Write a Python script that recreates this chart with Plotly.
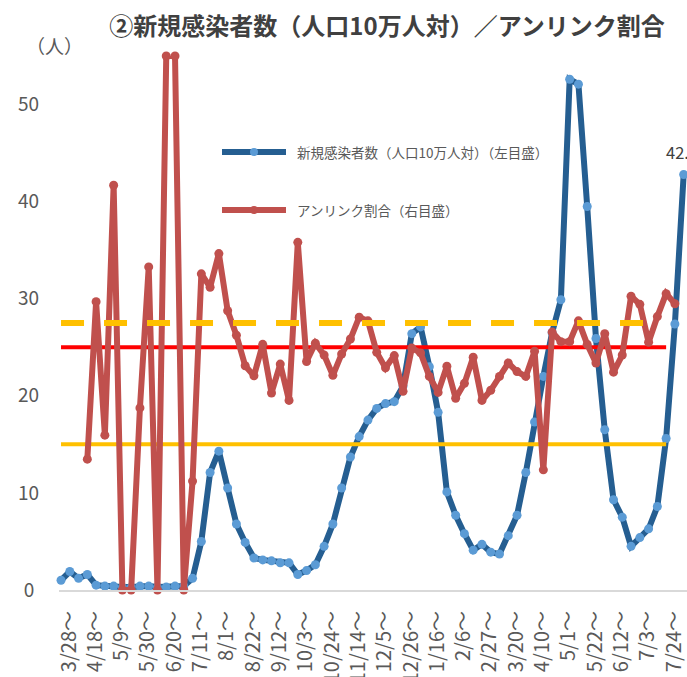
import plotly.graph_objects as go

# Weekly periods (week starting date)
weeks = [
    "3/28～", "4/4～", "4/11～", "4/18～", "4/25～", "5/2～", "5/9～", "5/16～",
    "5/23～", "5/30～", "6/6～", "6/13～", "6/20～", "6/27～", "7/4～", "7/11～",
    "7/18～", "7/25～", "8/1～", "8/8～", "8/15～", "8/22～", "8/29～", "9/5～",
    "9/12～", "9/19～", "9/26～", "10/3～", "10/10～", "10/17～", "10/24～", "10/31～",
    "11/7～", "11/14～", "11/21～", "11/28～", "12/5～", "12/12～", "12/19～", "12/26～",
    "1/2～", "1/9～", "1/16～", "1/23～", "1/30～", "2/6～", "2/13～", "2/20～",
    "2/27～", "3/6～", "3/13～", "3/20～", "3/27～", "4/3～", "4/10～", "4/17～",
    "4/24～", "5/1～", "5/8～", "5/15～", "5/22～", "5/29～", "6/5～", "6/12～",
    "6/19～", "6/26～", "7/3～", "7/10～", "7/17～", "7/24～", "7/31～", "8/7～",
]

# New cases per 100k population (left axis)
new_cases = [
    1.0, 1.9, 1.2, 1.6, 0.5, 0.4, 0.4, 0.3, 0.3, 0.4, 0.4, 0.3,
    0.3, 0.4, 0.4, 1.2, 5.0, 12.1, 14.3, 10.5, 6.8, 4.9, 3.3, 3.1,
    3.0, 2.8, 2.8, 1.6, 2.0, 2.6, 4.5, 6.8, 10.5, 13.7, 15.8, 17.5,
    18.7, 19.2, 19.4, 21.0, 26.4, 27.1, 23.0, 18.3, 10.1, 7.7, 5.8, 4.1,
    4.7, 3.9, 3.7, 5.6, 7.7, 12.1, 17.3, 22.0, 26.5, 29.9, 52.6, 52.1,
    39.5, 25.9, 16.5, 9.3, 7.5, 4.5, 5.4, 6.3, 8.6, 15.6, 27.4, 42.8,
]

# Share of cases with unknown infection route, % (right axis)
unlinked_pct = [
    None, None, None, 24.5, 54.0, 29.0, 75.8, 0, 0, 34.1, 60.5, 0,
    100, 100, 0, 20.4, 59.2, 56.7, 63.0, 52.3, 47.7, 42.0, 40.1, 46.0,
    36.9, 42.3, 35.5, 65.1, 42.8, 46.2, 44.0, 40.2, 44.2, 47.0, 51.1, 50.4,
    44.5, 41.6, 43.9, 37.2, 45.3, 44.4, 40.0, 37.0, 41.9, 35.9, 38.7, 43.6,
    35.5, 37.4, 40.0, 42.5, 40.9, 40.0, 44.7, 22.5, 48.3, 46.5, 46.5, 50.4,
    46.0, 42.5, 48.0, 40.8, 44.0, 55.0, 53.5, 46.4, 51.2, 55.5, 53.6, None,
]

# Left axis ticks
case_ticks = [0, 10, 20, 30, 40, 50]
case_tick_text = ["0\u2005", "10", "20", "30", "40", "50"]

# Reference levels
cases_stage3 = 15      # per 100k, solid yellow
cases_stage4 = 25      # per 100k, solid red
unlinked_limit = 50    # %, dashed yellow
level_weeks = weeks[:70]
limit_weeks = weeks[:69]

TITLE = "②新規感染者数（人口10万人対）／アンリンク割合"
CASES_NAME = "新規感染者数（人口10万人対）（左目盛）"
UNLINKED_NAME = "アンリンク割合（右目盛）"

W, H = 687, 677
ML, MR, MT, MB = 59, 0, 56, 87
FONT = "Noto Sans CJK JP"
GREY = "#595959"
BLUE_LINE, BLUE_DOT = "#255E91", "#5B9BD5"
RED = "#C0504D"


def px_x(p):
    return (p - ML) / (W - ML - MR)


def px_y(p):
    return (H - MB - p) / (H - MT - MB)


fig = go.Figure()

fig.add_trace(go.Scatter(
    x=weeks, y=new_cases, mode="lines+markers", name=CASES_NAME,
    line=dict(color=BLUE_LINE, width=6),
    marker=dict(color=BLUE_DOT, size=9),
    yaxis="y", cliponaxis=False,
))
fig.add_trace(go.Scatter(
    x=level_weeks, y=[cases_stage3] * len(level_weeks), mode="lines",
    line=dict(color="#FFC000", width=4), yaxis="y", hoverinfo="skip",
))
fig.add_trace(go.Scatter(
    x=level_weeks, y=[cases_stage4] * len(level_weeks), mode="lines",
    line=dict(color="#FF0000", width=4), yaxis="y", hoverinfo="skip",
))
fig.add_trace(go.Scatter(
    x=weeks, y=unlinked_pct, mode="lines+markers", name=UNLINKED_NAME,
    line=dict(color=RED, width=6),
    marker=dict(color=RED, size=9),
    yaxis="y2", connectgaps=False, cliponaxis=False,
))
fig.add_trace(go.Scatter(
    x=limit_weeks, y=[unlinked_limit] * len(limit_weeks), mode="lines",
    line=dict(color="#FFC000", width=6, dash="23px,20px"),
    yaxis="y2", hoverinfo="skip",
))

# value label on the latest week (runs off the right edge of the chart)
fig.add_annotation(
    x=weeks[-1], y=new_cases[-1], yref="y", text=f"{new_cases[-1]:.1f}",
    showarrow=False, yshift=22, xshift=-20, xanchor="left",
    font=dict(family=FONT, size=16.5, color="#404040"),
)

# legend drawn inside the plot
legend_rows = [
    (CASES_NAME, BLUE_LINE, BLUE_DOT, 152),
    (UNLINKED_NAME, RED, RED, 210),
]
for label, line_col, dot_col, ypx in legend_rows:
    fig.add_shape(type="line", xref="paper", yref="paper",
                  x0=px_x(222), x1=px_x(286), y0=px_y(ypx), y1=px_y(ypx),
                  line=dict(color=line_col, width=6), layer="above")
    fig.add_shape(type="circle", xref="paper", yref="paper",
                  x0=px_x(250), x1=px_x(258), y0=px_y(ypx + 4), y1=px_y(ypx - 4),
                  fillcolor=dot_col, line=dict(width=0), layer="above")
    fig.add_annotation(xref="paper", yref="paper", x=px_x(295), y=px_y(ypx),
                       text=label, showarrow=False, xanchor="left", yanchor="middle",
                       font=dict(family=FONT, size=13.5, color=GREY))

# unit label
fig.add_annotation(xref="paper", yref="paper", x=px_x(54), y=px_y(46),
                   text="（人）", showarrow=False, xanchor="center", yanchor="middle",
                   font=dict(family=FONT, size=19, color=GREY))

fig.update_layout(
    width=W, height=H,
    margin=dict(l=ML, r=MR, t=MT, b=MB, pad=0, autoexpand=False),
    paper_bgcolor="white", plot_bgcolor="white",
    showlegend=False,
    title=dict(
        text=TITLE, x=387 / W, xanchor="center", y=1 - 27 / H, yanchor="middle",
        xref="container", yref="container", automargin=False,
        font=dict(family=FONT, size=24, color="#404040", weight="bold"),
    ),
    xaxis=dict(
        type="category", range=[-0.23, 71.38], automargin=False,
        tickmode="linear", tick0=0, dtick=3,
        tickangle=-90, ticks="", ticklabelstandoff=11, ticklabelshift=8,
        tickfont=dict(family=FONT, size=20, color=GREY),
        showline=True, linecolor="#D9D9D9", linewidth=2,
        showgrid=False, zeroline=False,
    ),
    yaxis=dict(
        range=[0, 55], tickvals=case_ticks, ticktext=case_tick_text,
        ticks="", ticklabelstandoff=19, automargin=False,
        tickfont=dict(family=FONT, size=19, color=GREY),
        showgrid=False, zeroline=False, showline=False,
    ),
    yaxis2=dict(
        range=[0, 100], overlaying="y", side="right", visible=False,
        automargin=False,
    ),
)

fig.write_html("out.html")
